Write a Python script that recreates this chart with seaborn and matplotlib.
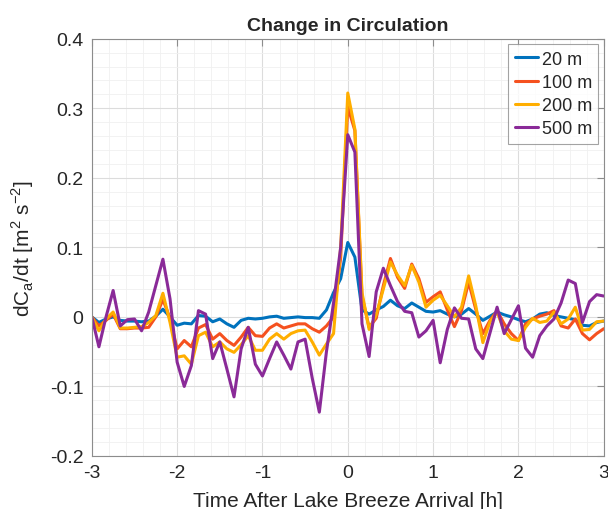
import numpy as np
import pandas as pd
import matplotlib
matplotlib.use("Agg")
import matplotlib.pyplot as plt
import seaborn as sns
from matplotlib.ticker import MultipleLocator

# time axis: 5-minute steps from -3 h to 3 h
time_h = np.round(np.arange(-36, 37) / 12.0, 4)

s20 = [0.0, -0.008, -0.003, 0.0, -0.005, -0.006, -0.006, -0.007, -0.006, 0.001,
       0.011, 0.0, -0.012, -0.009, -0.01, 0.002, 0.001, -0.007, -0.003, -0.01,
       -0.015, -0.005, -0.002, -0.003, -0.002, 0.0, 0.001, -0.002, -0.001, 0.0,
       -0.001, -0.001, -0.002, 0.01, 0.035, 0.055, 0.107, 0.086, 0.01, 0.004,
       0.01, 0.015, 0.024, 0.016, 0.012, 0.02, 0.014, 0.008, 0.007, 0.009,
       0.004, 0.0, 0.004, 0.012, 0.004, -0.005, 0.001, 0.007, 0.003, 0.0,
       -0.004, -0.007, -0.003, 0.004, 0.006, 0.002, 0.0, -0.002, -0.004, -0.012,
       -0.013, -0.008, -0.006]

s100 = [0.0, -0.013, -0.005, 0.004, -0.017, -0.017, -0.016, -0.016, -0.015, 0.0,
        0.025, -0.002, -0.046, -0.034, -0.043, -0.016, -0.011, -0.032, -0.024, -0.034,
        -0.041, -0.029, -0.015, -0.027, -0.028, -0.016, -0.01, -0.016, -0.013, -0.01,
        -0.01, -0.017, -0.022, -0.013, 0.0, 0.085, 0.302, 0.268, 0.03, -0.015,
        -0.002, 0.045, 0.084, 0.057, 0.041, 0.076, 0.055, 0.021, 0.029, 0.036,
        0.01, -0.014, 0.009, 0.05, 0.011, -0.024, -0.005, 0.009, -0.01, -0.024,
        -0.034, -0.01, -0.003, 0.001, 0.004, 0.009, -0.013, -0.016, -0.003, -0.024,
        -0.033, -0.024, -0.017]

s200 = [0.0, -0.02, -0.003, 0.007, -0.016, -0.016, -0.015, -0.014, -0.008, 0.002,
        0.034, -0.008, -0.058, -0.056, -0.068, -0.027, -0.022, -0.043, -0.036, -0.046,
        -0.051, -0.04, -0.027, -0.048, -0.048, -0.032, -0.024, -0.032, -0.024, -0.02,
        -0.019, -0.036, -0.055, -0.039, -0.024, 0.1, 0.322, 0.27, 0.035, -0.018,
        0.003, 0.04, 0.079, 0.06, 0.045, 0.074, 0.05, 0.014, 0.024, 0.031,
        0.016, 0.0, 0.014, 0.059, 0.016, -0.037, -0.007, 0.007, -0.02, -0.032,
        -0.034, -0.015, -0.002, -0.008, -0.006, 0.007, -0.01, -0.003, 0.014, -0.019,
        -0.018, -0.007, -0.006]

s500 = [0.0, -0.043, 0.0, 0.038, -0.013, -0.004, -0.003, -0.02, 0.007, 0.045,
        0.083, 0.026, -0.065, -0.1, -0.07, 0.009, 0.004, -0.06, -0.036, -0.075,
        -0.115, -0.046, -0.015, -0.068, -0.085, -0.06, -0.036, -0.055, -0.075, -0.036,
        -0.032, -0.088, -0.137, -0.05, 0.02, 0.1, 0.262, 0.237, -0.01, -0.057,
        0.036, 0.07, 0.045, 0.022, 0.008, 0.006, -0.029, -0.02, -0.005, -0.066,
        -0.018, 0.013, -0.002, -0.003, -0.046, -0.06, -0.023, 0.014, -0.024, -0.004,
        0.016, -0.045, -0.058, -0.027, -0.013, -0.003, 0.02, 0.053, 0.048, -0.008,
        0.022, 0.032, 0.03]

series_names = ["20 m", "100 m", "200 m", "500 m"]
series_colors = ["#0072BD", "#F5511F", "#FFAE00", "#8A2A98"]

df = pd.concat([
    pd.DataFrame({"t": time_h, "v": vals, "height": name})
    for name, vals in zip(series_names, [s20, s100, s200, s500])
], ignore_index=True)

sns.set_theme(style="white")
plt.rcParams["font.family"] = ["Liberation Sans", "DejaVu Sans"]

fig = plt.figure(figsize=(6.08, 5.10), dpi=100)
ax = fig.add_axes([0.151, 0.104, 0.842, 0.818])

sns.lineplot(data=df, x="t", y="v", hue="height", hue_order=series_names,
             palette=series_colors, linewidth=2.2, ax=ax, sort=False,
             estimator=None)

ax.set_xlim(-3, 3)
ax.set_ylim(-0.2, 0.4)
ax.xaxis.set_minor_locator(MultipleLocator(0.2))
ax.yaxis.set_minor_locator(MultipleLocator(0.02))
ax.grid(True, which="major", color="#DCDCDC", linewidth=0.8)
ax.grid(True, which="minor", color="#F0F0F0", linewidth=0.6)
ax.set_axisbelow(True)
for sp in ax.spines.values():
    sp.set_color("#8C8C8C")
    sp.set_linewidth(0.8)
ax.tick_params(which="major", direction="in", length=5, width=0.8, color="#8C8C8C",
               top=True, right=True, labelsize=14, labelcolor="#262626", pad=6)
ax.tick_params(which="minor", length=0, top=True, right=True)
ax.set_yticks(np.round(np.arange(-0.2, 0.41, 0.1), 2))
ax.set_yticklabels(["-0.2", "-0.1", "0", "0.1", "0.2", "0.3", "0.4"])
ax.set_xticks(np.arange(-3, 4, 1))
ax.set_xticklabels(["-3", "-2", "-1", "0", "1", "2", "3"])

ax.set_title("Change in Circulation", fontsize=14, fontweight="bold", pad=6)
ax.set_xlabel("Time After Lake Breeze Arrival [h]", fontsize=15, color="#262626", labelpad=7)
ax.set_ylabel(r"dC$_\mathregular{a}$/dt [m$^\mathregular{2}$ s$^\mathregular{-2}$]",
              fontsize=15, color="#262626", labelpad=10)

leg = ax.legend(loc="upper right", fontsize=13, frameon=True, fancybox=False,
                handlelength=1.3, handletextpad=0.2, borderpad=0.35,
                labelspacing=0.35, borderaxespad=0.3)
leg.get_frame().set_edgecolor("#8C8C8C")
leg.get_frame().set_linewidth(0.8)
leg.set_title(None)

fig.savefig("out.png", dpi=100)
